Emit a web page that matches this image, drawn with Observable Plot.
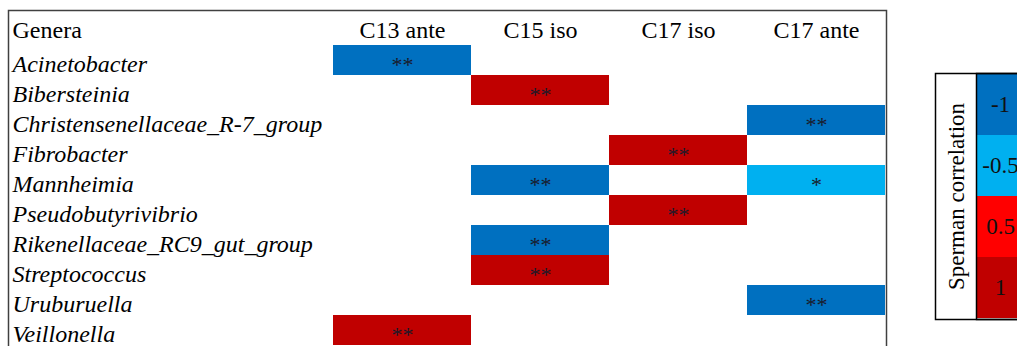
<!DOCTYPE html>
<html><head><meta charset="utf-8">
<script src="https://cdn.jsdelivr.net/npm/d3@7"></script>
<script src="https://cdn.jsdelivr.net/npm/@observablehq/plot@0.6"></script>
<style>
body{margin:0;background:#fff;}
#wrap{position:relative;width:1017px;height:346px;overflow:hidden;}
#main{position:absolute;left:0;top:0;width:1017px;}
#legend{position:absolute;left:935px;top:73px;width:120px;}
svg{max-width:none !important;}
</style></head><body><div id="wrap"><div id="main"></div><div id="legend"></div></div>
<script>
const genera = ["Acinetobacter","Bibersteinia","Christensenellaceae_R-7_group","Fibrobacter","Mannheimia","Pseudobutyrivibrio","Rikenellaceae_RC9_gut_group","Streptococcus","Uruburuella","Veillonella"];
const traits = ["C13 ante","C15 iso","C17 iso","C17 ante"];
const cellGenus = ["Acinetobacter","Bibersteinia","Christensenellaceae_R-7_group","Fibrobacter","Mannheimia","Mannheimia","Pseudobutyrivibrio","Rikenellaceae_RC9_gut_group","Streptococcus","Uruburuella","Veillonella"];
const cellTrait = ["C13 ante","C15 iso","C17 ante","C17 iso","C15 iso","C17 ante","C17 iso","C15 iso","C15 iso","C17 ante","C13 ante"];
const cellRho = [-1,1,-1,1,-1,-0.5,1,-1,1,-1,1];
const cellSig = ["**","**","**","**","**","*","**","**","**","**","**"];
const legendValues = [-1,-0.5,0.5,1];
const legendLabels = ["-1","-0.5","0.5","1"];
const legendColors = ["#0070C0","#00B0F0","#FF0000","#C00000"];
const legendTitle = "Sperman correlation";
const headerTitle = "Genera";

const cells = cellGenus.map((g,i)=>({genus:g, trait:cellTrait[i], rho:cellRho[i], sig:cellSig[i]}));
const font = "Liberation Serif";

const main = Plot.plot({
  width:1017, height:346, marginLeft:332, marginRight:131, marginTop:41, marginBottom:0,
  style:{background:"transparent", color:"#000", overflow:"visible"},
  x:{type:"band", domain:traits, padding:0, axis:null},
  y:{type:"band", domain:genera, padding:0, range:[41,349], axis:null},
  color:{type:"ordinal", domain:legendValues, range:legendColors},
  marks:[
    Plot.cell(cells,{x:"trait",y:"genus",fill:"rho"}),
    Plot.text(cells,{x:"trait",y:"genus",text:"sig",fontSize:22,fill:"#1a1a2a", dy:4, fontFamily:font}),
    Plot.text(traits,{x:d=>d, text:d=>d, frameAnchor:"top", dy:-4, lineAnchor:"bottom", fontSize:24, fill:"#000", fontFamily:font}),
    Plot.text([headerTitle],{text:d=>d, frameAnchor:"top-left", dx:-320, dy:-4, lineAnchor:"bottom", textAnchor:"start", fontSize:24, fill:"#000", fontFamily:font}),
    Plot.text(genera,{y:d=>d, text:d=>d, frameAnchor:"left", dx:-320, dy:4, textAnchor:"start", fontStyle:"italic", fontSize:24, fill:"#000", fontFamily:font}),
    Plot.frame({stroke:"#404040", strokeWidth:1.5, insetLeft:-324, insetTop:-31, insetBottom:-20})
  ]
});
document.getElementById("main").appendChild(main);

const leg = Plot.plot({
  width:89, height:246, marginLeft:41, marginRight:0, marginTop:0, marginBottom:0,
  style:{background:"transparent", color:"#000", overflow:"visible"},
  y:{type:"band", domain:legendLabels, padding:0, axis:null},
  color:{type:"ordinal", domain:legendLabels, range:legendColors},
  marks:[
    Plot.cell(legendLabels,{y:d=>d, fill:d=>d}),
    Plot.text(legendLabels,{y:d=>d, text:d=>d, fontSize:23, fill:"#111", fontFamily:font}),
    Plot.text([legendTitle],{text:d=>d, frameAnchor:"left", dx:-20, rotate:-90, textAnchor:"middle", fontSize:23, fill:"#000", fontFamily:font}),
    Plot.frame({stroke:"#000", strokeWidth:1.5}),
    Plot.frame({stroke:"#000", strokeWidth:1.5, insetLeft:-41})
  ]
});
document.getElementById("legend").appendChild(leg);
</script></body></html>
